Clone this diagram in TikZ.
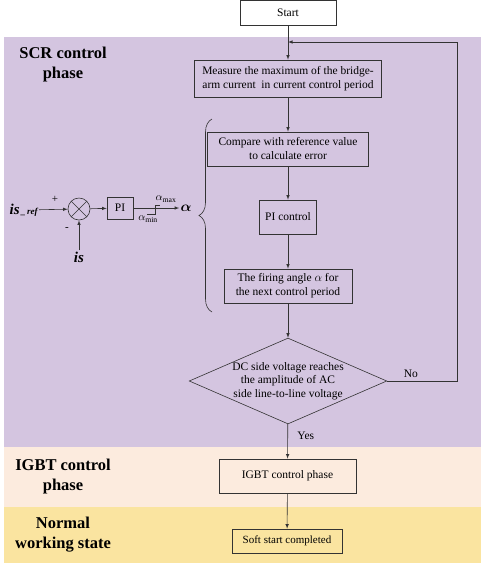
\documentclass[tikz,border=0pt]{standalone}
\usepackage{amsmath,amssymb}
\usepackage{fontspec}
\setmainfont{Liberation Serif}
\usetikzlibrary{arrows,positioning,shapes.geometric,decorations.pathreplacing}

\definecolor{scrbg}{RGB}{212,197,224}
\definecolor{igbtbg}{RGB}{252,235,222}
\definecolor{normbg}{RGB}{250,228,160}

\begin{document}
\begin{tikzpicture}[x=1pt,y=-1pt,draw=black!80,>=latex,line width=0.6pt]
	\tikzstyle{stepbox}=[rectangle,draw,inner sep=2pt,align=center,
	font=\fontsize{11.5}{14}\selectfont
	]
	\tikzstyle{phase}=[align=center,font=\fontsize{16.5}{20}\selectfont\bfseries];
	\tikzstyle{sig}=[inner sep=1pt,font=\fontsize{15}{15}\selectfont\bfseries\itshape];
\useasboundingbox (0,0) rectangle (484,566);
% background bands
\fill[scrbg] (4,37) rectangle (481,447);
\fill[igbtbg] (4,447) rectangle (481,507);
\fill[normbg] (4,507) rectangle (481,563);

\node[phase](scrlabel) at (63,65){SCR control\\phase};
\node[phase](igbtlabel) at (63,477){IGBT control\\phase};
\node[phase](normlabel) at (63,535){Normal\\working state};

% flow chart
\node[stepbox,fill=white,minimum width=96pt,minimum height=25pt](start) at (288,13){Start};
\coordinate (merge) at (288,42);
\node[stepbox,minimum width=187pt,minimum height=37pt](measure) at (288,78.5){Measure the maximum of the bridge-\\arm current\ \ in current control period};
\node[stepbox,minimum width=161pt,minimum height=34pt](compare) at (288,149){Compare with reference value\\to calculate error};
\node[stepbox,minimum width=57pt,minimum height=34pt](pictrl) at (288,217){PI control};
\node[stepbox,minimum width=128pt,minimum height=34pt](firing) at (288,286){The firing angle $\alpha$ for\\the next control period};
\node[diamond,draw,aspect=2.3,inner sep=0pt,align=center,
	font=\fontsize{11.5}{13.5}\selectfont](check) at (288,381){DC side voltage reaches\\the amplitude of AC\\side line-to-line voltage};
\node[stepbox,minimum width=137pt,minimum height=34pt](igbt) at (287.5,476){IGBT control phase};
\node[stepbox,minimum width=110pt,minimum height=24pt,font=\fontsize{11}{12}\selectfont](soft) at (287,541){Soft start completed};
\coordinate (loopcorner) at (457,42);

\draw [->] (start) -- (measure);
\draw [->] (measure) -- (compare);
\draw [->] (compare) -- (pictrl);
\draw [->] (pictrl) -- (firing);
\draw [->] (firing) -- (check);
\draw [->] (check) -- node[right,pos=0.33,xshift=6pt,font=\fontsize{11.5}{13}\selectfont]{Yes} (igbt);
\draw [->] (igbt) -- (soft);
\draw [->] (check.east) -| node[above,pos=0.17,font=\fontsize{11.5}{13}\selectfont]{No} (loopcorner) -- (merge);

% PI loop
\node[circle,draw,minimum size=22pt,inner sep=0pt](sum) at (79,209){};
\draw (sum.45) -- (sum.225) (sum.135) -- (sum.315);
\node[stepbox,minimum width=26pt,minimum height=22pt](pi) at (120,208){PI};
\node[sig,anchor=east](isref) at (39,210){is{\fontsize{9}{9}\selectfont\,\_\,ref}};
\node[sig](isfb) at (79,257){is};
\node[sig](alpha) at (186,208){$\boldsymbol{\alpha}$};
\draw [->] (isref) -- (sum);
\draw [->] (isfb) -- (sum);
\draw [->] (sum) -- (pi);
\draw [->] (pi) -- (alpha);
\draw (147,214) -- (155,214) -- (155,205) -- (160,205);
\node[font=\fontsize{11}{11}\selectfont](amax) at (166,199){$\alpha_{\max}$};
\node[font=\fontsize{11}{11}\selectfont](amin) at (148,219){$\alpha_{\min}$};
\node[font=\fontsize{11}{11}\selectfont](plus) at (55,199){+};
\node[font=\fontsize{11}{11}\selectfont](minus) at (67,229){-};
\draw[decorate,decoration={brace,amplitude=13pt}] (212,312) -- (212,119);

\end{tikzpicture}
\end{document}
